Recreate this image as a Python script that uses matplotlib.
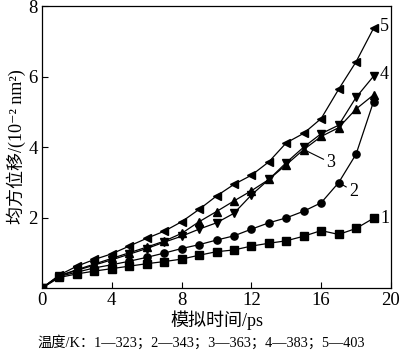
import matplotlib
matplotlib.use('Agg')
import matplotlib.pyplot as plt

plt.rcParams['font.family'] = ['Liberation Serif', 'Noto Sans CJK SC', 'DejaVu Serif']

# 模拟时间 / ps
t = [0, 1, 2, 3, 4, 5, 6, 7, 8, 9, 10, 11, 12, 13, 14, 15, 16, 17, 18, 19]

# 均方位移 (10^-2 nm^2), 温度 323 ... 403 K
msd_1 = [0, 0.30, 0.40, 0.48, 0.55, 0.62, 0.69, 0.75, 0.82, 0.93, 1.03, 1.08,
         1.19, 1.27, 1.34, 1.47, 1.63, 1.52, 1.69, 1.98]
msd_2 = [0, 0.33, 0.45, 0.57, 0.66, 0.76, 0.87, 0.99, 1.12, 1.23, 1.36, 1.48,
         1.67, 1.85, 1.99, 2.18, 2.42, 2.99, 3.80, 5.29]
msd_3 = [0, 0.35, 0.52, 0.68, 0.84, 1.00, 1.16, 1.33, 1.55, 1.88, 2.17, 2.47,
         2.76, 3.08, 3.50, 3.93, 4.30, 4.55, 5.08, 5.48]
msd_4 = [0, 0.35, 0.50, 0.65, 0.80, 0.96, 1.12, 1.30, 1.47, 1.67, 1.85, 2.12,
         2.64, 3.08, 3.56, 4.00, 4.38, 4.62, 5.41, 6.01]
msd_5 = [0, 0.37, 0.62, 0.81, 0.97, 1.19, 1.41, 1.61, 1.88, 2.23, 2.61, 2.94,
         3.20, 3.58, 4.12, 4.39, 4.81, 5.64, 6.42, 7.37]

series = [msd_1, msd_2, msd_3, msd_4, msd_5]
markers = ['s', 'o', '^', 'v', '<']

fig = plt.figure(figsize=(4.0, 3.58), dpi=100)
ax = fig.add_axes([0.105, 0.1955, 0.8725, 0.7875])

for y, m in zip(series, markers):
    ax.plot(t, y, color='black', linewidth=0.9, marker=m, markersize=5.2)

# 曲线编号
ax.text(19.4, msd_1[-1], '1', fontsize=13, va='center')
ax.annotate('2', xy=(t[17], msd_2[17]), xytext=(17.6, 2.75), fontsize=13,
            va='center', arrowprops=dict(arrowstyle='-', lw=0.8, shrinkA=0, shrinkB=2))
ax.annotate('3', xy=(t[15], msd_3[15]), xytext=(16.3, 3.55), fontsize=13,
            va='center', arrowprops=dict(arrowstyle='-', lw=0.8, shrinkA=0, shrinkB=2))
ax.text(19.35, msd_4[-1] + 0.05, '4', fontsize=13, va='center')
ax.text(19.35, msd_5[-1] + 0.05, '5', fontsize=13, va='center')

ax.set_xlim(0, 20)
ax.set_ylim(0, 8)
ax.set_xticks([0, 4, 8, 12, 16, 20])
ax.set_yticks([2, 4, 6, 8])
ax.tick_params(direction='in', length=4, width=0.8, labelsize=13.5, pad=3)
for s in ax.spines.values():
    s.set_linewidth(0.9)

ax.set_xlabel('模拟时间/ps', fontsize=13, labelpad=1)
ax.set_ylabel('均方位移/(10⁻² nm²)', fontsize=13, labelpad=2)

fig.text(0.0925, 0.042, '温度/K：1—323；2—343；3—363；4—383；5—403',
         fontsize=10.3, va='center')

fig.savefig('out.png', dpi=100)
